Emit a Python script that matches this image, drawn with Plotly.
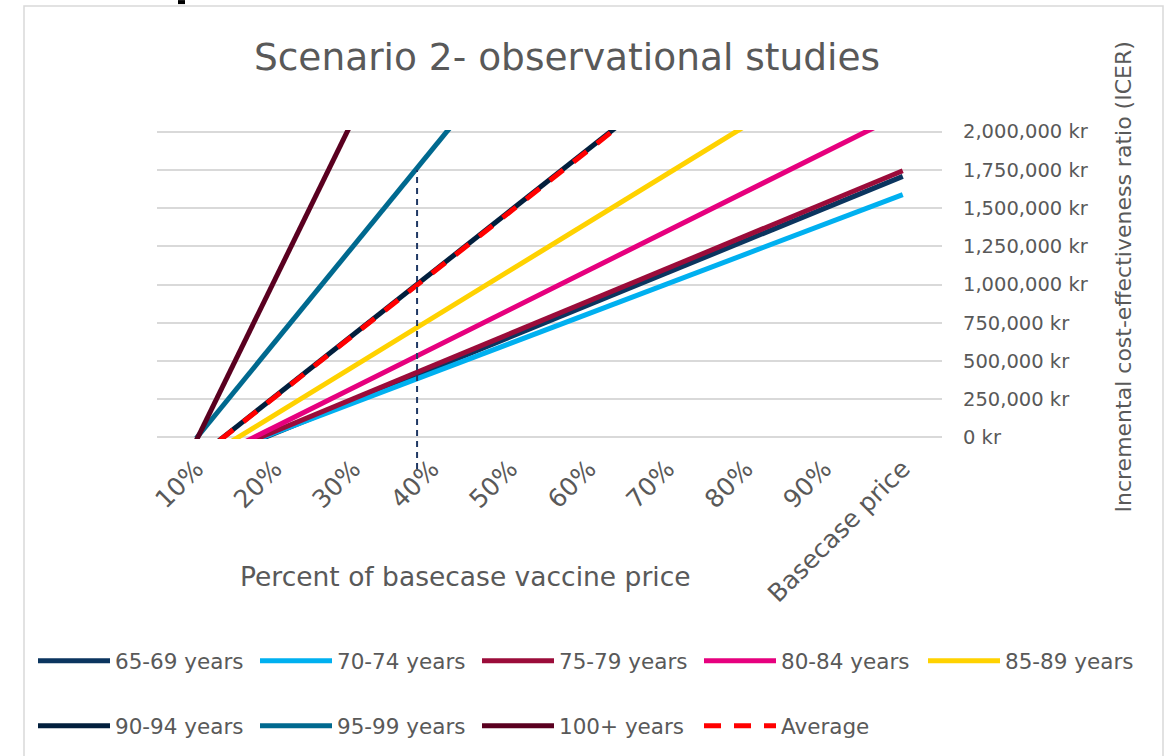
import plotly.graph_objects as go

# ---------------- data ----------------
categories = ["10%", "20%", "30%", "40%", "50%", "60%", "70%", "80%", "90%", "Basecase price"]

icer_65_69 = [-183000, 27000, 237000, 447000, 657000, 867000, 1077000, 1287000, 1497000, 1707000]
icer_70_74 = [-164000, 31000, 225000, 420000, 615000, 810000, 1004000, 1199000, 1394000, 1588000]
icer_75_79 = [-173000, 40000, 253000, 466000, 679000, 892000, 1105000, 1318000, 1531000, 1744000]
icer_80_84 = [-188000, 68000, 325000, 581000, 837000, 1094000, 1350000, 1606000, 1862000, 2119000]
icer_85_89 = [-167000, 148000, 463000, 778000, 1093000, 1408000, 1723000, 2038000, 2353000, 2668000]
icer_90_94 = [-138000, 267000, 672000, 1077000, 1482000, 1887000, 2292000, 2697000, 3102000, 3507000]
icer_95_99 = [-5000, 623000, 1251000, 1879000, 2507000, 3135000, 3763000, 4391000, 5019000, 5647000]
icer_100_plus = [-20000, 1030000, 2080000, 3130000, 4180000, 5230000, 6280000, 7330000, 8380000, 9430000]
icer_average = [-140000, 264000, 668000, 1072000, 1476000, 1880000, 2284000, 2688000, 3092000, 3496000]

series_names = ["65-69 years", "70-74 years", "75-79 years", "80-84 years", "85-89 years",
                "90-94 years", "95-99 years", "100+ years", "Average"]
series_values = [icer_65_69, icer_70_74, icer_75_79, icer_80_84, icer_85_89,
                 icer_90_94, icer_95_99, icer_100_plus, icer_average]

y_ticks = [0, 250000, 500000, 750000, 1000000, 1250000, 1500000, 1750000, 2000000]
y_tick_labels = ["0 kr", "250,000 kr", "500,000 kr", "750,000 kr", "1,000,000 kr",
                 "1,250,000 kr", "1,500,000 kr", "1,750,000 kr", "2,000,000 kr"]
y_min, y_max = -10000, 2010000
marker_x_index = 2.813          # vertical dashed marker position (category index)
marker_top_value = 1750000

# ---------------- styling ----------------
colors = ["#0b355f", "#00b0f0", "#9b0c3a", "#e6007e", "#ffd200",
          "#021f3d", "#00698f", "#5a0020", "#ff0000"]
dashes = ["solid"] * 8 + ["17px,13px"]
legends = ["legend"] * 4 + ["legend3"] + ["legend2"] * 4
GREY = "#595959"
FONT = "DejaVu Sans"

W, H = 1166, 756
L, R, T, B = 157, 942, 130.2, 439.9


def px2x(px):
    return (px - L) / (R - L)


def py2y(py):
    return (B - py) / (B - T)


fig = go.Figure()
for name, vals, col, dsh, leg in zip(series_names, series_values, colors, dashes, legends):
    fig.add_trace(go.Scatter(
        x=categories, y=vals, mode="lines", name=name, legend=leg,
        line=dict(color=col, width=5, dash=dsh),
    ))

legend_common = dict(
    orientation="h", xanchor="left", yanchor="top",
    itemwidth=72, entrywidth=135, entrywidthmode="pixels",
    font=dict(family=FONT, size=21.5, color=GREY),
    bgcolor="rgba(0,0,0,0)", traceorder="normal",
)

fig.update_layout(
    width=W, height=H,
    margin=dict(l=L, r=W - R, t=T, b=H - B, pad=0),
    paper_bgcolor="white", plot_bgcolor="white",
    font=dict(family=FONT, color=GREY),
    title=dict(text="Scenario 2- observational studies", x=567 / W, xanchor="center",
               y=1 - 57 / H, yanchor="middle", yref="container",
               font=dict(family=FONT, size=37.5, color=GREY)),
    xaxis=dict(type="category", categoryorder="array", categoryarray=categories,
               range=[-0.5, 9.5], showgrid=False, zeroline=False, showline=False,
               tickangle=-45, tickfont=dict(family=FONT, size=25, color=GREY),
               ticks="", ticklabelstandoff=9, automargin=False, fixedrange=True),
    yaxis=dict(side="right", range=[y_min, y_max], tickvals=y_ticks, ticktext=y_tick_labels,
               showgrid=True, gridcolor="#d9d9d9",
               gridwidth=1.5, zeroline=False, showline=False, ticks="",
               ticklabelstandoff=20,
               tickfont=dict(family=FONT, size=19.5, color=GREY), automargin=False,
               fixedrange=True),
    legend=dict(x=px2x(33), y=py2y(640), **legend_common),
    legend3=dict(x=px2x(923), y=py2y(640), **legend_common),
    legend2=dict(x=px2x(33), y=py2y(705), **legend_common),
    showlegend=True,
)

fig.add_annotation(text="Percent of basecase vaccine price", xref="paper", yref="paper",
                   x=px2x(465), y=py2y(578), xanchor="center", yanchor="middle",
                   showarrow=False, font=dict(family=FONT, size=26.5, color=GREY))
fig.add_annotation(text="Incremental cost-effectiveness ratio (ICER)", xref="paper", yref="paper",
                   x=px2x(1123), y=py2y(278), xanchor="center", yanchor="middle",
                   textangle=-90, showarrow=False, font=dict(family=FONT, size=22, color=GREY))

# vertical dashed marker
fig.add_shape(type="line", xref="x", yref="paper",
              x0=marker_x_index, x1=marker_x_index,
              y0=py2y(470), y1=(marker_top_value - y_min) / (y_max - y_min),
              line=dict(color="#1f3864", width=2, dash="6px,5px"))
# chart border
fig.add_shape(type="rect", xref="paper", yref="paper",
              x0=px2x(24), x1=px2x(1163), y0=py2y(760), y1=py2y(6),
              line=dict(color="#d9d9d9", width=1.5), fillcolor="rgba(0,0,0,0)", layer="below")
# small cut-off glyph at top edge
fig.add_shape(type="rect", xref="paper", yref="paper",
              x0=px2x(178), x1=px2x(185), y0=py2y(4), y1=py2y(0),
              line=dict(width=0), fillcolor="black")

fig.write_html("out.html", config={"displayModeBar": False},
               post_script="document.body.style.margin='0';")
